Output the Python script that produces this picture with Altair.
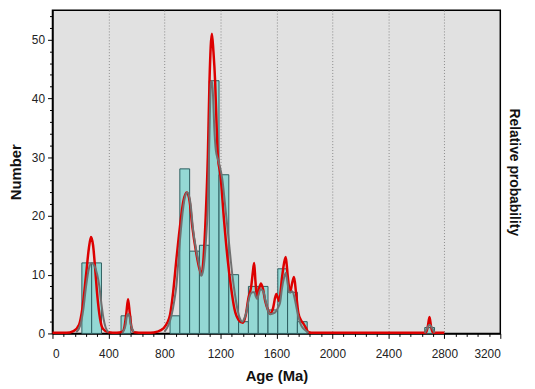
import altair as alt
import pandas as pd

# Histogram bins (Ma) and counts
bin_start = [210, 280, 490, 840, 910, 980, 1050, 1120, 1190, 1260, 1330, 1400, 1470, 1540, 1610, 1680, 1750, 2660]
bin_end = [280, 350, 560, 910, 980, 1050, 1120, 1190, 1260, 1330, 1400, 1470, 1540, 1610, 1680, 1750, 1820, 2730]
counts = [12, 12, 3, 3, 28, 14, 15, 43, 27, 10, 2, 8, 8, 4, 11, 7, 2, 1]

# Probability density plot (red) in "Number" units
red_age = [0, 100, 150, 190, 215, 240, 260, 275, 290, 305, 320, 340, 360, 400, 460,
           500, 515, 528, 540, 552, 565, 585, 650, 700, 750, 790, 820, 840, 862, 885,
           910, 935, 960, 980, 1000, 1025, 1050, 1065, 1080, 1095, 1110, 1122, 1139,
           1150, 1162, 1172, 1182, 1200, 1225, 1250, 1275, 1300, 1330, 1360, 1380, 1400,
           1420, 1432, 1441, 1450, 1462, 1475, 1490, 1505, 1520, 1540, 1556, 1575, 1599,
           1620, 1640, 1655, 1667, 1680, 1698, 1712, 1726, 1740, 1757, 1775, 1792, 1810,
           1830, 1850, 2000, 2400, 2640, 2670, 2682, 2694, 2705, 2718, 2740, 2800]
red_val = [0.1, 0.1, 0.4, 1.5, 4.5, 10, 14.5, 16.4, 15, 11, 6.5, 2.5, 0.8, 0.2, 0.1,
           0.3, 1.2, 3.5, 5.8, 3.5, 1.0, 0.2, 0.1, 0.1, 0.3, 0.8, 1.8, 3.2, 7, 12.5,
           18, 22.5, 24, 22.5, 18, 14, 11, 10, 13, 20, 30, 43, 51,
           48, 43, 36, 30, 27, 19.5, 13, 8, 4.2, 2.3, 1.8, 3, 6,
           8, 10.5, 12, 9, 6, 7.5, 8.5, 7.5, 5.5, 4, 3.3, 4.2, 6.7,
           5.5, 9.5, 12, 13, 10, 7, 8.5, 9.6, 7, 3.5, 2.3, 1.7, 1.0,
           0.2, 0.1, 0.1, 0.1, 0.1, 0.2, 1.2, 2.8, 1.2, 0.2, 0.1, 0.1]

# Kernel density curve (grey), in separate segments
gray_segments = [
    ([170, 200, 220, 240, 260, 280, 300, 320, 335, 350, 365, 380, 400],
     [0.2, 1.5, 4, 8, 11, 12, 11.5, 10, 8, 5, 2.5, 1, 0.2]),
    ([500, 520, 535, 545, 560, 580],
     [0.1, 1.2, 3.2, 3.3, 1.5, 0.2]),
    ([800, 830, 850, 870, 885, 909, 932, 950, 963, 975, 987, 1003, 1027, 1050, 1062,
      1075, 1086, 1100, 1109, 1120, 1132, 1140, 1148, 1156, 1168, 1180, 1195, 1215,
      1235, 1262, 1286, 1305, 1321, 1340, 1356, 1370, 1385, 1400, 1415, 1430, 1443,
      1452, 1462, 1475, 1486, 1498, 1509, 1520, 1533, 1545, 1556, 1575, 1592, 1610,
      1627, 1639, 1655, 1667, 1680, 1691, 1703, 1714, 1730, 1745, 1760, 1776, 1790,
      1804, 1830],
     [0.3, 1.5, 3, 5.5, 8, 15.3, 21, 23.5, 24, 23.5, 22, 18, 14.2, 11.4, 9.8,
      10.5, 12.5, 17, 21, 32, 42.6, 43, 40, 35, 31, 29.8, 28.5, 26,
      21.5, 15.3, 9.8, 6.5, 4.2, 2.5, 2, 2.5, 3.6, 5.5, 6.7, 7, 7,
      6.3, 5.9, 6.8, 7.5, 7.4, 7, 5.8, 4.5, 3.6, 3.3, 3.4, 3.6, 4.3,
      5.3, 7.5, 9.5, 10.3, 8.5, 7, 7, 7.2, 6, 4.2, 2.6, 1.4, 0.9,
      0.6, 0.1]),
    ([2660, 2680, 2695, 2710, 2730],
     [0.1, 1.0, 1.5, 1.0, 0.1]),
]

x_ticks = list(range(0, 3201, 80))
y_ticks = list(range(0, 56, 2))

bars_df = pd.DataFrame({"start": bin_start, "end": bin_end, "count": counts})
red_df = pd.DataFrame({"age": red_age, "val": red_val})
gray_rows = []
for i, (ages, vals) in enumerate(gray_segments):
    for a, v in zip(ages, vals):
        gray_rows.append({"age": a, "val": v, "seg": i})
gray_df = pd.DataFrame(gray_rows)

FONT = "Liberation Sans"
x_scale = alt.Scale(domain=[0, 3200], nice=False, zero=False)
y_dom = [0, 55]

x_axis = alt.Axis(
    title="Age (Ma)", values=x_ticks, format="d", labelOverlap=False,
    labelExpr="datum.value % 400 === 0 ? datum.label : ''",
    tickSize={"expr": "datum.value % 400 === 0 ? 5 : 3"},
    grid=True, gridDash=[1, 2], gridColor="#8a8a8a", gridWidth=1,
    gridOpacity={"expr": "datum.value % 400 === 0 && datum.value > 0 && datum.value < 3200 ? 1 : 0"},
    labelFontSize=12, labelFont=FONT, labelColor="#222222", labelPadding=10,
    titleFont=FONT, titleFontSize=15, titleFontWeight="bold", titleColor="#111111",
    titlePadding=10, domainColor="black", domainWidth=1.5, tickColor="black",
)

y_axis = alt.Axis(
    title="Number", values=y_ticks, labelOverlap=False,
    labelExpr="datum.value % 10 === 0 ? datum.label : ''",
    tickSize={"expr": "datum.value % 10 === 0 ? 5 : 3"},
    grid=False,
    labelFontSize=12, labelFont=FONT, labelColor="#222222", labelPadding=3,
    titleFont=FONT, titleFontSize=15, titleFontWeight="bold", titleColor="#111111",
    titlePadding=8, domainColor="black", domainWidth=1.5, tickColor="black",
)

bars = alt.Chart(bars_df).mark_rect(
    fill="#94d8d4", stroke="#2d5e60", strokeWidth=1
).encode(
    x=alt.X("start:Q", scale=x_scale, axis=x_axis),
    x2="end:Q",
    y=alt.Y("count:Q", scale=alt.Scale(domain=y_dom, nice=False), axis=y_axis),
    y2=alt.datum(0),
)

red = alt.Chart(red_df).mark_line(
    color="#dd0000", strokeWidth=2.5, interpolate="monotone"
).encode(
    x=alt.X("age:Q", scale=x_scale, axis=x_axis),
    y=alt.Y("val:Q", scale=alt.Scale(domain=y_dom, nice=False),
            axis=alt.Axis(orient="right", title="Relative probability", labels=False,
                          ticks=False, domain=False, grid=False,
                          titleFont=FONT, titleFontSize=14, titleFontWeight="bold",
                          titleColor="#111111", titlePadding=6)),
)

gray = alt.Chart(gray_df).mark_line(
    color="#707070", strokeWidth=2, interpolate="monotone"
).encode(
    x=alt.X("age:Q", scale=x_scale, axis=x_axis),
    y=alt.Y("val:Q", scale=alt.Scale(domain=y_dom, nice=False), axis=None),
    detail="seg:N",
)

chart = alt.layer(bars, red, gray).resolve_scale(y="independent").properties(
    width=453, height=327,
    background="white",
    autosize=alt.AutoSizeParams(type="none"),
    padding={"left": 45, "top": 0, "right": 27, "bottom": 53},
).configure_view(
    fill="#e1e1e1", stroke="black", strokeWidth=1.5
)

chart.save("out.html", embed_options={"renderer": "svg", "actions": False})
